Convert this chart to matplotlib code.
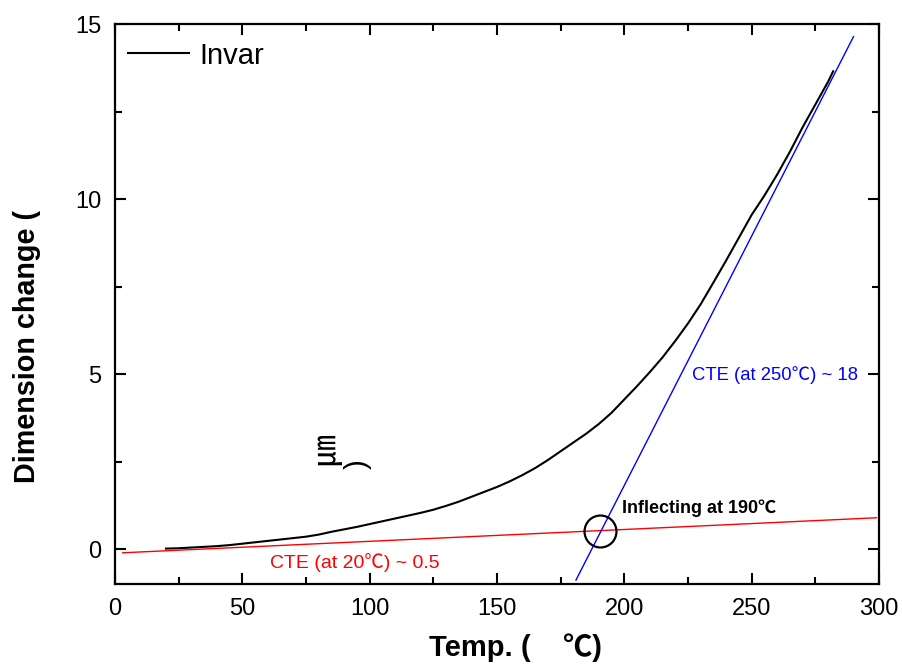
"""Invar dimension change vs temperature, with CTE tangent lines."""
import matplotlib

matplotlib.use("Agg")
from matplotlib import pyplot as plt
from matplotlib.ticker import MultipleLocator

plt.rcParams["font.family"] = ["Liberation Sans", "Noto Sans CJK JP", "DejaVu Sans"]

temp = [20, 25, 30, 35, 40, 45, 50, 55, 60, 65, 70, 75, 80, 85, 90, 95, 100,
        105, 110, 115, 120, 125, 130, 135, 140, 145, 150, 155, 160, 165, 170,
        175, 180, 185, 190, 195, 200, 205, 210, 215, 220, 225, 230, 235, 240,
        245, 250, 255, 260, 265, 270, 275, 280, 282]
dimension = [0.02, 0.03, 0.05, 0.07, 0.09, 0.12, 0.16, 0.20, 0.24, 0.28, 0.32,
             0.36, 0.42, 0.50, 0.57, 0.64, 0.72, 0.80, 0.88, 0.96, 1.04, 1.13,
             1.24, 1.36, 1.50, 1.64, 1.78, 1.94, 2.12, 2.32, 2.55, 2.80, 3.05,
             3.30, 3.58, 3.90, 4.28, 4.66, 5.06, 5.48, 5.95, 6.45, 7.00, 7.62,
             8.25, 8.90, 9.55, 10.10, 10.70, 11.35, 12.05, 12.70, 13.35, 13.65]

# tangent lines
cte20_x = [3, 299]
cte20_y = [-0.10, 0.90]
cte250_x = [181, 290]
cte250_y = [-0.88, 14.64]

inflect_x = 190.5
inflect_y = 0.53

fig = plt.figure(figsize=(9.03, 6.71), dpi=100)
ax = fig.add_axes([0.1274, 0.1292, 0.846, 0.835])

ax.plot(temp, dimension, color="black", linewidth=1.5, label="Invar")
ax.plot(cte20_x, cte20_y, color="#ff0000", linewidth=1.0)
ax.plot(cte250_x, cte250_y, color="#0000ff", linewidth=1.0)
ax.plot([inflect_x], [inflect_y], marker="o", markersize=23, markerfacecolor="none",
        markeredgecolor="black", markeredgewidth=1.6)

ax.text(199, 1.18, "Inflecting at 190℃", fontsize=13, fontweight="bold",
        va="center", ha="left")
ax.text(226.5, 4.98, "CTE (at 250℃) ~ 18", fontsize=13.3, color="#0000ff",
        va="center", ha="left")
ax.text(61, -0.39, "CTE (at 20℃) ~ 0.5", fontsize=14, color="#ff0000",
        va="center", ha="left")

# stray unit glyphs from the original axis label
ax.text(83.0, 2.87, "㎛", fontsize=23, rotation=90, va="center", ha="center")
ax.text(95.5, 2.44, ")", fontsize=21, rotation=90, va="center", ha="center")

ax.set_xlim(0, 300)
ax.set_ylim(-1, 15)
ax.xaxis.set_major_locator(MultipleLocator(50))
ax.xaxis.set_minor_locator(MultipleLocator(25))
ax.yaxis.set_major_locator(MultipleLocator(5))
ax.yaxis.set_minor_locator(MultipleLocator(2.5))
ax.tick_params(which="both", direction="in", top=True, right=True, width=1.5,
               labelsize=17)
ax.tick_params(which="major", length=8, pad=10)
ax.tick_params(which="minor", length=5)
for spine in ax.spines.values():
    spine.set_linewidth(1.6)

ax.set_xlabel("Temp. (    ℃)", fontsize=21, fontweight="bold")
ax.set_ylabel("Dimension change (", fontsize=20.7, fontweight="bold")
ax.xaxis.set_label_coords(0.524, -0.088)
ax.yaxis.set_label_coords(-0.097, 0.425)

ax.legend(loc="upper left", bbox_to_anchor=(-0.006, 1), borderaxespad=0.2,
          frameon=False, fontsize=21, handlelength=2.1, handletextpad=0.35)

fig.savefig("out.png", dpi=100)
plt.close(fig)
